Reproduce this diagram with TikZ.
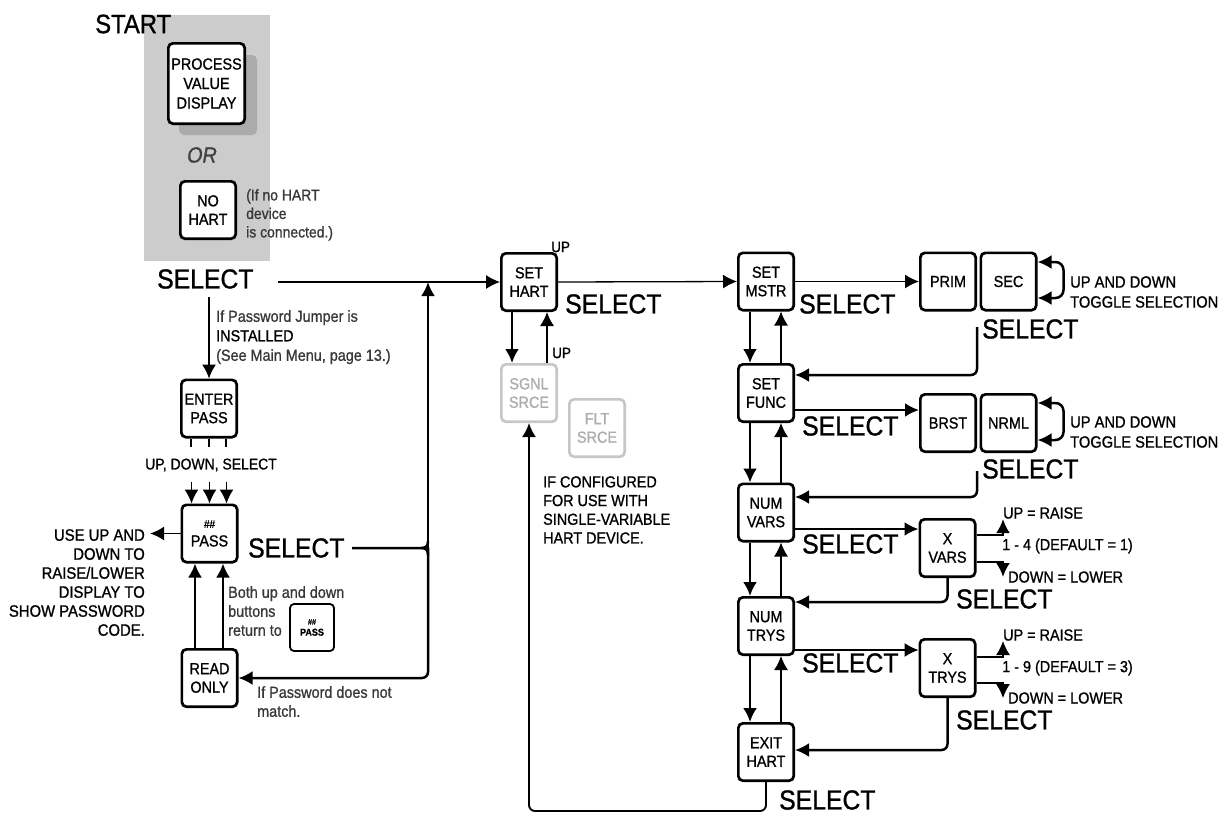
\documentclass[tikz,border=0pt]{standalone}
\usepackage{fontspec}
\setmainfont{Liberation Sans}[FakeStretch=0.9, FakeBold=1]
\usetikzlibrary{arrows.meta,calc}
\begin{document}
\begin{tikzpicture}[x=1pt,y=-1pt,
  bx/.style={draw, fill=white, line width=2.7pt, rounded corners=4.5pt, minimum width=55.3pt, minimum height=57.3pt, inner sep=0pt, align=center, font=\fontsize{16pt}{18.5pt}\selectfont},
  gbx/.style={bx, draw=black!22, text=black!32},
  sel/.style={anchor=west, inner sep=0pt, font=\fontsize{27.5pt}{30pt}\selectfont},
  txt/.style={anchor=west, inner sep=0pt, align=left, font=\fontsize{16pt}{19pt}\selectfont},
  ltxt/.style={txt, text=black!78},
  ln/.style={line width=1.3pt},
  lnm/.style={line width=1.9pt},
  lnk/.style={line width=2.5pt},
  arr/.style={-{Latex[length=14pt,width=14pt]}},
  barr/.style={{Latex[length=14pt,width=14pt]}-{Latex[length=14pt,width=14pt]}}
]
\useasboundingbox (0,0) rectangle (1225,814);

% start panel
\fill[black!20] (144,15) rectangle (270,261);
\fill[black!33, rounded corners=5pt] (179,55) rectangle (257,135);
\node[bx, minimum width=76.3pt, minimum height=80.3pt, font=\fontsize{16pt}{19.5pt}\selectfont] (pvd) at (206.5,83.5) {PROCESS\\VALUE\\DISPLAY};
\node[inner sep=0pt, font=\fontsize{22pt}{22pt}\selectfont\itshape, text=black!75] (or) at (202,155) {OR};
\node[bx] (nohart) at (208,210) {NO\\HART};
\node[ltxt, anchor=north west, font=\fontsize{15.5pt}{18.5pt}\selectfont] (nohartnote) at (246,189) {(If no HART\\device\\is connected.)};
\node[inner sep=0pt, anchor=west, font=\fontsize{26.5pt}{28pt}\selectfont] (start) at (95,24) {START};

% nodes
\node[bx] (enter) at (209,408.5) {ENTER\\PASS};
\node[bx] (pass) at (209.5,533.5) {{\fontsize{11pt}{11pt}\selectfont\#\#}\\PASS};
\node[bx] (readonly) at (209.5,678) {READ\\ONLY};
\node[bx, line width=1.8pt, minimum width=44pt, minimum height=47pt, rounded corners=4pt, font=\fontsize{10pt}{11pt}\selectfont] (minipass) at (312,627.5) {{\fontsize{8pt}{8pt}\selectfont\#\#}\\\textbf{PASS}};
\node[bx] (sethart) at (529,282) {SET\\HART};
\node[gbx] (sgnl) at (529,393) {SGNL\\SRCE};
\node[gbx] (flt) at (597,428) {FLT\\SRCE};
\node[bx] (setmstr) at (766,281.5) {SET\\MSTR};
\node[bx] (prim) at (948,281.5) {PRIM};
\node[bx] (sec) at (1008.5,281.5) {SEC};
\node[bx] (setfunc) at (766,393) {SET\\FUNC};
\node[bx] (brst) at (948,423) {BRST};
\node[bx] (nrml) at (1008.5,423) {NRML};
\node[bx] (numvars) at (766,512.5) {NUM\\VARS};
\node[bx] (xvars) at (947.5,548) {X\\VARS};
\node[bx] (numtrys) at (766,626) {NUM\\TRYS};
\node[bx] (xtrys) at (947.5,668) {X\\TRYS};
\node[bx] (exithart) at (766,752) {EXIT\\HART};

% SELECT labels
\node[sel] (sel0) at (157,279) {SELECT};
\node[sel] (selpass) at (248,548) {SELECT};
\node[sel] (selsh) at (565,304) {SELECT};
\node[sel] (selsm) at (799,304) {SELECT};
\node[sel] (selsec) at (982,329) {SELECT};
\node[sel] (selsf) at (802,426) {SELECT};
\node[sel] (selnrml) at (982,469) {SELECT};
\node[sel] (selnv) at (802,544) {SELECT};
\node[sel] (selxv) at (956,599) {SELECT};
\node[sel] (selnt) at (802,663) {SELECT};
\node[sel] (selxt) at (956,720) {SELECT};
\node[sel] (selex) at (779,800) {SELECT};

% other texts
\node[ltxt, anchor=north west, font=\fontsize{16pt}{19.5pt}\selectfont] (pwnote) at (216,310) {If Password Jumper is\\\textcolor{black}{INSTALLED}\\(See Main Menu, page 13.)};
\node[txt, anchor=center, font=\fontsize{15.5pt}{16pt}\selectfont] (udslbl) at (211,465) {UP, DOWN, SELECT};
\node[txt, anchor=north east, align=right, font=\fontsize{16.5pt}{19pt}\selectfont] (passnote) at (145,529) {USE UP AND\\DOWN TO\\RAISE/LOWER\\DISPLAY TO\\SHOW PASSWORD\\CODE.};
\node[ltxt, anchor=north west] (bothnote) at (228,586) {Both up and down\\buttons\\return to};
\node[ltxt, anchor=north west] (nomatch) at (257,686) {If Password does not\\match.};
\node[txt, anchor=north west, font=\fontsize{16pt}{18.7pt}\selectfont] (confnote) at (543,476) {IF CONFIGURED\\FOR USE WITH\\SINGLE-VARIABLE\\HART DEVICE.};
\node[txt, font=\fontsize{15pt}{15pt}\selectfont] (up1) at (551,247) {UP};
\node[txt, font=\fontsize{15pt}{15pt}\selectfont] (up2) at (552,353) {UP};
\node[txt, anchor=north west, font=\fontsize{16.3pt}{20pt}\selectfont] (tog1) at (1070,276) {UP AND DOWN\\TOGGLE SELECTION};
\node[txt, anchor=north west, font=\fontsize{16.3pt}{20pt}\selectfont] (tog2) at (1070,416) {UP AND DOWN\\TOGGLE SELECTION};
\node[txt] (vr1) at (1003,513) {UP = RAISE};
\node[txt] (vr2) at (1002,546) {1 - 4 (DEFAULT = 1)};
\node[txt] (vr3) at (1008,577) {DOWN = LOWER};
\node[txt] (tr1) at (1003,635) {UP = RAISE};
\node[txt] (tr2) at (1002,668) {1 - 9 (DEFAULT = 3)};
\node[txt] (tr3) at (1008,698) {DOWN = LOWER};

% coordinates
\coordinate (c0) at (278,282);
\coordinate (br) at (428,548);
\coordinate (ps) at (352,548);
\coordinate (s0) at (209,297);
\coordinate (pl) at (150,533.5);
\coordinate (r1) at (977,327);
\coordinate (r2) at (977,471);
\coordinate (bl) at (766,811);
\coordinate (bl2) at (529,811);

% connectors left
\draw[ln,arr] (c0) -- (sethart.west);
\draw[lnk,arr] (br) -- (428,282);
\draw[lnk,arr,rounded corners=6pt] (br) |- (readonly.east);
\draw[lnk] (ps) -- (421,548) .. controls (426,548) and (428,546) .. (428,541);
\draw[lnk] (421,548) .. controls (426,548) and (428,550) .. (428,555);
\draw[ln,arr] (s0) -- (enter.north);
\foreach \dx in {-18,0,17} {
  \draw[ln] ($(enter.south)+(\dx,0)$) -- ++(0,8);
  \draw[ln,arr] ($(pass.north)+(\dx,-22)$) -- ($(pass.north)+(\dx,0)$);
}
\draw[lnm,arr] (pass.west) -- (pl);
\draw[lnk,arr] ($(readonly.north)+(-14.5,0)$) -- ($(pass.south)+(-14.5,0)$);
\draw[lnk,arr] ($(readonly.north)+(13.5,0)$) -- ($(pass.south)+(13.5,0)$);

% set hart
\draw[ln,arr] (sethart.east) -- (setmstr.west);
\draw[lnk,arr] ($(sethart.south)+(-17,0)$) -- ($(sgnl.north)+(-17,0)$);
\draw[ln,arr] ($(sgnl.north)+(18,0)$) -- ($(sethart.south)+(18,0)$);
\draw[lnm,arr,rounded corners=6pt] (exithart.south) -- (bl) -- (bl2) -- (sgnl.south);

% main chain
\foreach \a/\b in {setmstr/setfunc, setfunc/numvars, numvars/numtrys, numtrys/exithart} {
  \draw[lnk,arr] ($(\a.south)+(-16,0)$) -- ($(\b.north)+(-16,0)$);
  \draw[ln,arr] ($(\b.north)+(15,0)$) -- ($(\a.south)+(15,0)$);
}

% right side
\draw[ln,arr] (setmstr.east) -- (prim.west);
\draw[lnk,barr,rounded corners=8pt] ($(sec.east)+(0,-19.5)$) -- ++(26,0) -- ++(0,36) -- ($(sec.east)+(0,16.5)$);
\draw[lnk,arr,rounded corners=6pt] (r1) |- ($(setfunc.east)+(0,-18)$);
\draw[lnk,arr] ($(setfunc.east)+(0,17)$) -- ($(brst.west)+(0,-13)$);
\draw[lnk,barr,rounded corners=8pt] ($(nrml.east)+(0,-20)$) -- ++(26,0) -- ++(0,37) -- ($(nrml.east)+(0,17)$);
\draw[lnk,arr,rounded corners=6pt] (r2) |- ($(numvars.east)+(0,-15.5)$);

\draw[lnk,arr] ($(numvars.east)+(0,16.5)$) -- ($(xvars.west)+(0,-19)$);
\draw[lnk,arr] ($(xvars.east)+(0,-13)$) -- (1003,535) -- (1003,519);
\draw[lnk,arr] ($(xvars.east)+(0,14)$) -- (1003,562) -- (1003,577);
\draw[lnk,arr,rounded corners=6pt] (xvars.south) |- ($(numtrys.east)+(0,-24)$);

\draw[ln,arr] ($(numtrys.east)+(0,24)$) -- ($(xtrys.west)+(0,-18)$);
\draw[ln,arr] ($(xtrys.east)+(0,-11)$) -- (1003,657) -- (1003,641);
\draw[ln,arr] ($(xtrys.east)+(0,15)$) -- (1003,683) -- (1003,698);
\draw[lnk,arr,rounded corners=6pt] (xtrys.south) |- ($(exithart.east)+(0,-2)$);
\end{tikzpicture}
\end{document}
